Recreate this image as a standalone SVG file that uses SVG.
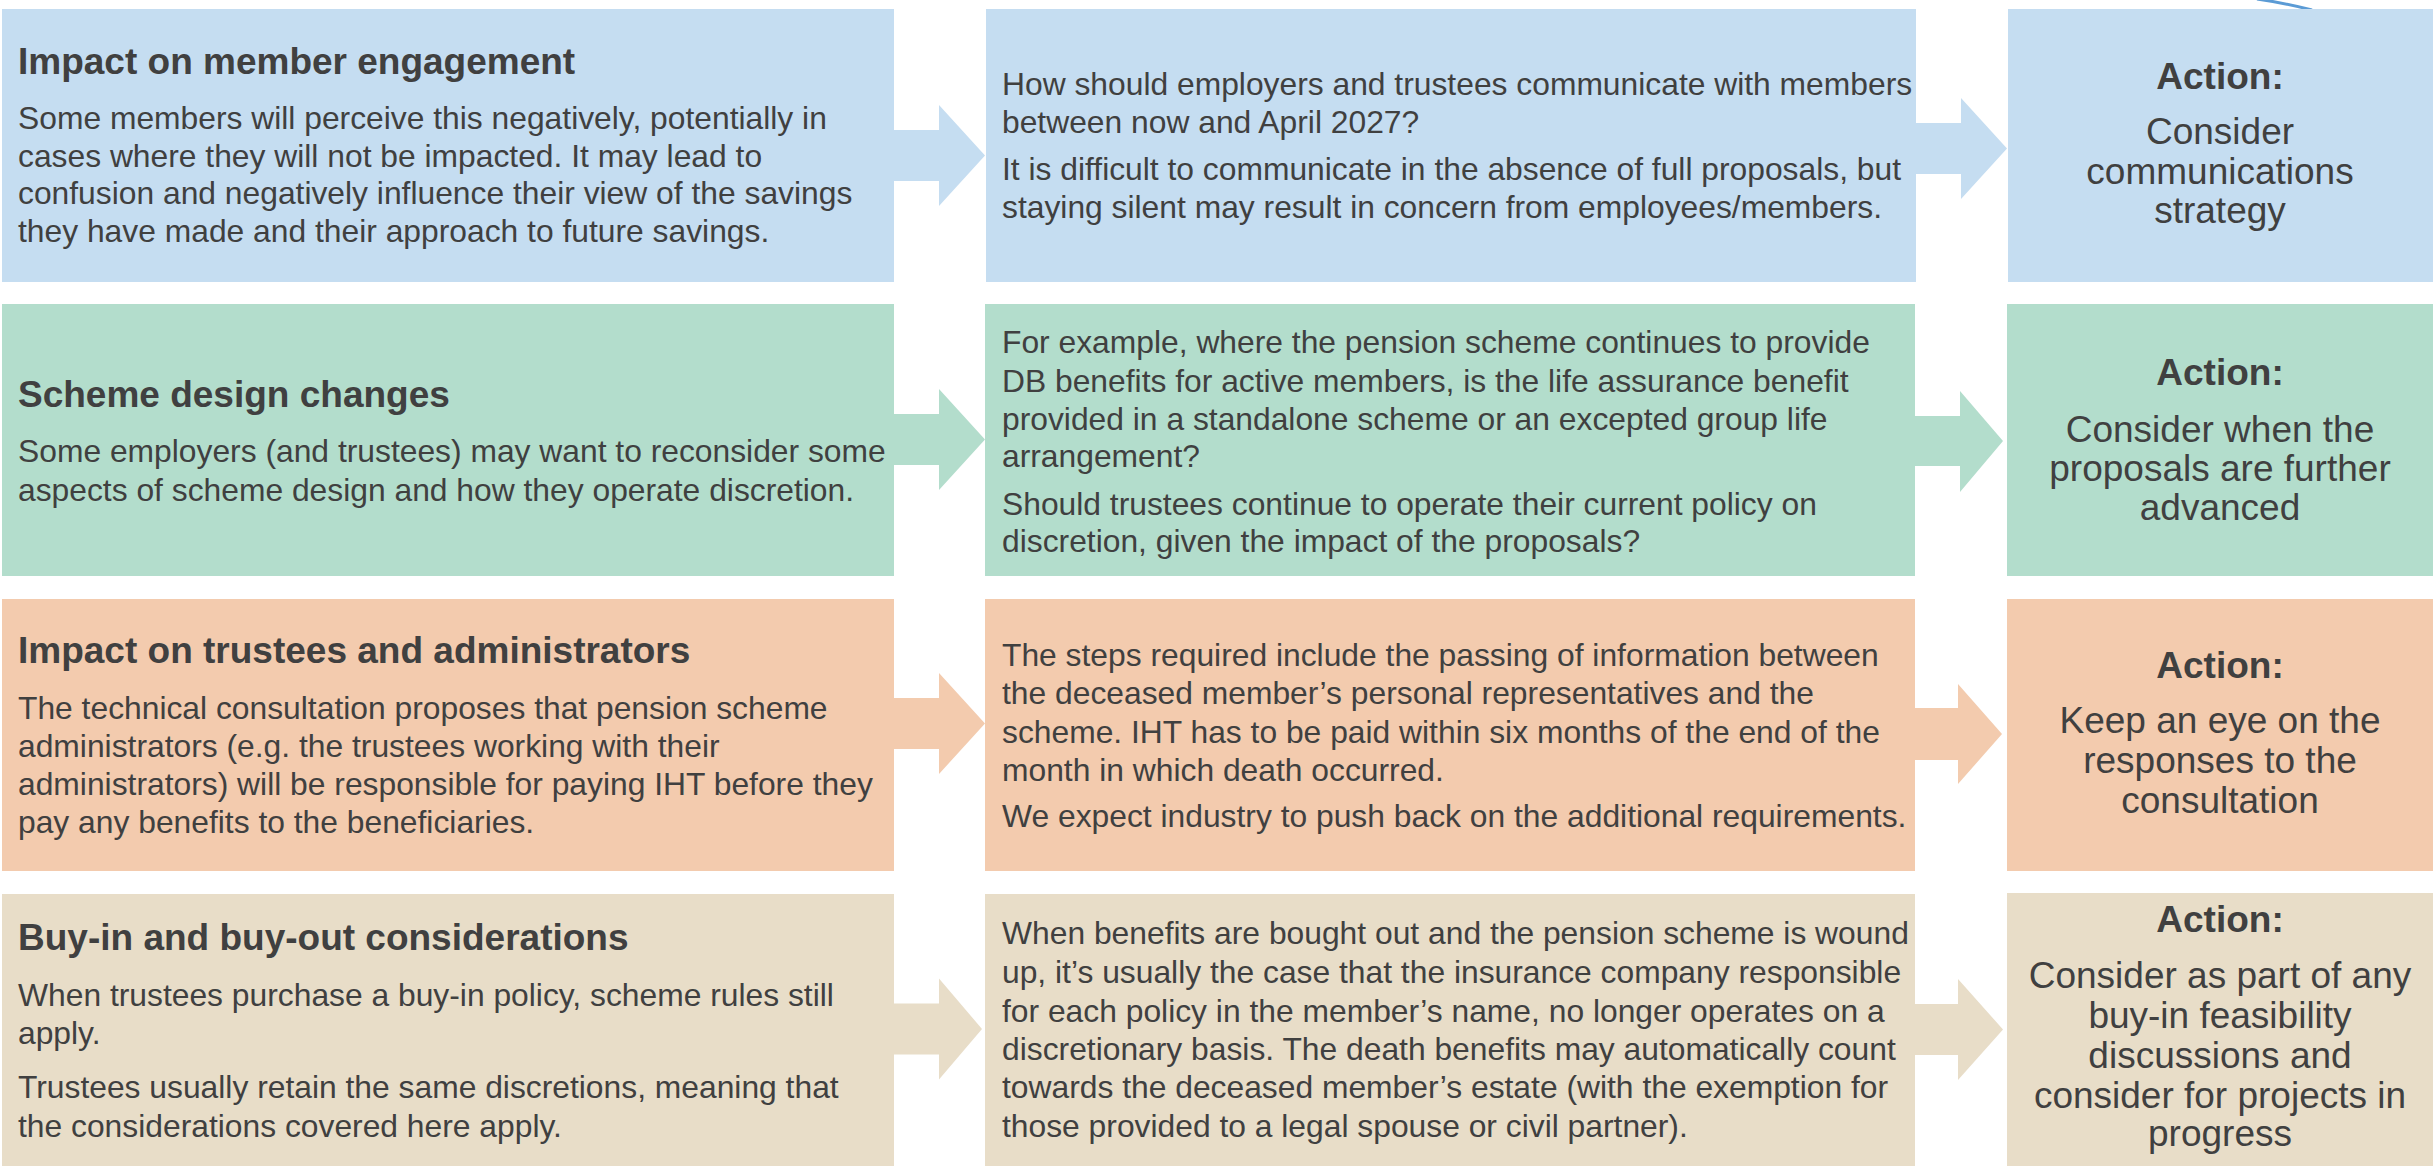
<svg xmlns="http://www.w3.org/2000/svg" width="2433" height="1168" viewBox="0 0 2433 1168">
<style>
.t{font-family:"Liberation Sans",Arial,sans-serif;fill:#404040}
.h{font-size:37px;font-weight:bold}
.b{font-size:31.8px}
.a{font-size:37px;text-anchor:middle}
.ah{font-size:37px;font-weight:bold;text-anchor:middle}
.c1{fill:#c5ddf1}
.c2{fill:#b3ddcc}
.c3{fill:#f3cbae}
.c4{fill:#e8ddc8}
</style>
<rect width="2433" height="1168" fill="#ffffff"/>
<path d="M2257,-1 Q2285,3 2312,10" fill="none" stroke="#5b9bd5" stroke-width="3"/>

<g id="row1-issue">
<rect class="c1" x="2" y="9" width="892" height="273"/>
<text class="t h" x="18" y="74">Impact on member engagement</text>
<text class="t b" x="18" y="129">Some members will perceive this negatively, potentially in</text>
<text class="t b" x="18" y="167">cases where they will not be impacted. It may lead to</text>
<text class="t b" x="18" y="204">confusion and negatively influence their view of the savings</text>
<text class="t b" x="18" y="242">they have made and their approach to future savings.</text>
</g>
<g id="row1-question">
<rect class="c1" x="986" y="9" width="930" height="273"/>
<text class="t b" x="1002" y="95">How should employers and trustees communicate with members</text>
<text class="t b" x="1002" y="133">between now and April 2027?</text>
<text class="t b" x="1002" y="180">It is difficult to communicate in the absence of full proposals, but</text>
<text class="t b" x="1002" y="218">staying silent may result in concern from employees/members.</text>
</g>
<g id="row1-action">
<rect class="c1" x="2008" y="9" width="425" height="273"/>
<text class="t ah" x="2220" y="89">Action:</text>
<text class="t a" x="2220" y="144">Consider</text>
<text class="t a" x="2220" y="184">communications</text>
<text class="t a" x="2220" y="223">strategy</text>
</g>

<g id="row2-issue">
<rect class="c2" x="2" y="304" width="892" height="272"/>
<text class="t h" x="18" y="407">Scheme design changes</text>
<text class="t b" x="18" y="462">Some employers (and trustees) may want to reconsider some</text>
<text class="t b" x="18" y="501">aspects of scheme design and how they operate discretion.</text>
</g>
<g id="row2-question">
<rect class="c2" x="985" y="304" width="930" height="272"/>
<text class="t b" x="1002" y="353">For example, where the pension scheme continues to provide</text>
<text class="t b" x="1002" y="392">DB benefits for active members, is the life assurance benefit</text>
<text class="t b" x="1002" y="430">provided in a standalone scheme or an excepted group life</text>
<text class="t b" x="1002" y="467">arrangement?</text>
<text class="t b" x="1002" y="515">Should trustees continue to operate their current policy on</text>
<text class="t b" x="1002" y="552">discretion, given the impact of the proposals?</text>
</g>
<g id="row2-action">
<rect class="c2" x="2007" y="304" width="426" height="272"/>
<text class="t ah" x="2220" y="385">Action:</text>
<text class="t a" x="2220" y="442">Consider when the</text>
<text class="t a" x="2220" y="481">proposals are further</text>
<text class="t a" x="2220" y="520">advanced</text>
</g>

<g id="row3-issue">
<rect class="c3" x="2" y="599" width="892" height="272"/>
<text class="t h" x="18" y="663">Impact on trustees and administrators</text>
<text class="t b" x="18" y="719">The technical consultation proposes that pension scheme</text>
<text class="t b" x="18" y="757">administrators (e.g. the trustees working with their</text>
<text class="t b" x="18" y="795">administrators) will be responsible for paying IHT before they</text>
<text class="t b" x="18" y="833">pay any benefits to the beneficiaries.</text>
</g>
<g id="row3-question">
<rect class="c3" x="985" y="599" width="930" height="272"/>
<text class="t b" x="1002" y="666">The steps required include the passing of information between</text>
<text class="t b" x="1002" y="704">the deceased member’s personal representatives and the</text>
<text class="t b" x="1002" y="743">scheme. IHT has to be paid within six months of the end of the</text>
<text class="t b" x="1002" y="781">month in which death occurred.</text>
<text class="t b" x="1002" y="827">We expect industry to push back on the additional requirements.</text>
</g>
<g id="row3-action">
<rect class="c3" x="2007" y="599" width="426" height="272"/>
<text class="t ah" x="2220" y="678">Action:</text>
<text class="t a" x="2220" y="733">Keep an eye on the</text>
<text class="t a" x="2220" y="773">responses to the</text>
<text class="t a" x="2220" y="813">consultation</text>
</g>

<g id="row4-issue">
<rect class="c4" x="2" y="894" width="892" height="272"/>
<text class="t h" x="18" y="950">Buy-in and buy-out considerations</text>
<text class="t b" x="18" y="1006">When trustees purchase a buy-in policy, scheme rules still</text>
<text class="t b" x="18" y="1044">apply.</text>
<text class="t b" x="18" y="1098">Trustees usually retain the same discretions, meaning that</text>
<text class="t b" x="18" y="1137">the considerations covered here apply.</text>
</g>
<g id="row4-question">
<rect class="c4" x="985" y="894" width="930" height="272"/>
<text class="t b" x="1002" y="944">When benefits are bought out and the pension scheme is wound</text>
<text class="t b" x="1002" y="983">up, it’s usually the case that the insurance company responsible</text>
<text class="t b" x="1002" y="1022">for each policy in the member’s name, no longer operates on a</text>
<text class="t b" x="1002" y="1060">discretionary basis. The death benefits may automatically count</text>
<text class="t b" x="1002" y="1098">towards the deceased member’s estate (with the exemption for</text>
<text class="t b" x="1002" y="1137">those provided to a legal spouse or civil partner).</text>
</g>
<g id="row4-action">
<rect class="c4" x="2007" y="893" width="426" height="273"/>
<text class="t ah" x="2220" y="932">Action:</text>
<text class="t a" x="2220" y="988">Consider as part of any</text>
<text class="t a" x="2220" y="1028">buy-in feasibility</text>
<text class="t a" x="2220" y="1068">discussions and</text>
<text class="t a" x="2220" y="1108">consider for projects in</text>
<text class="t a" x="2220" y="1146">progress</text>
</g>

<g id="connectors">
<polygon class="c1" points="894,130 939,130 939,105 985,155.5 939,206 939,181 894,181"/>
<polygon class="c1" points="1916,123 1961,123 1961,98 2007,148.5 1961,199 1961,174 1916,174"/>
<polygon class="c2" points="894,414 939,414 939,389 985,439.5 939,490 939,465 894,465"/>
<polygon class="c2" points="1915,416 1960,416 1960,391 2003,441 1960,492 1960,466 1915,466"/>
<polygon class="c3" points="894,698 939,698 939,673 985,723.5 939,774 939,749 894,749"/>
<polygon class="c3" points="1915,708 1958,708 1958,684 2002,734 1958,784 1958,760 1915,760"/>
<polygon class="c4" points="894,1003.5 939,1003.5 939,978.5 982,1029 939,1079.5 939,1054.5 894,1054.5"/>
<polygon class="c4" points="1915,1004 1958,1004 1958,979 2003,1029.5 1958,1080 1958,1055 1915,1055"/>
</g>
</svg>
